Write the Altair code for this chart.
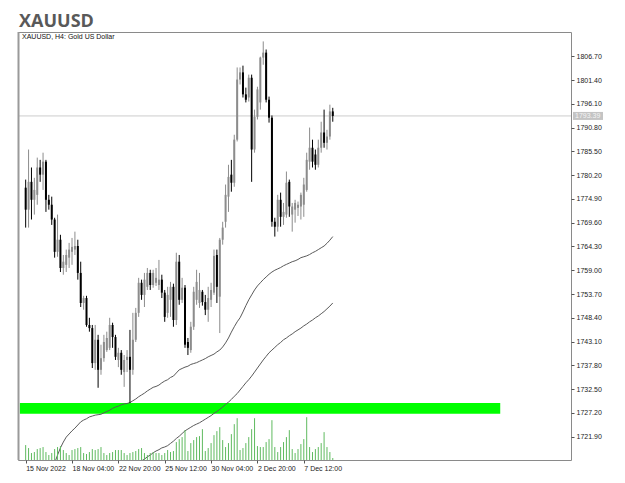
import altair as alt
import pandas as pd

# ---------------- data ----------------
opens = [1777.4, 1772.5, 1778.7, 1774.7, 1775.8, 1781.9, 1780.3, 1783.2, 1774.7, 1773.6,
         1770.3, 1763.1, 1765.8, 1759.5, 1760.2, 1761.8, 1763.1, 1763.6, 1764.4, 1758.4,
         1751.7, 1752.8, 1746.8, 1746.1, 1738.3, 1743.5, 1736.8, 1739.4, 1741.2, 1741.7,
         1746.8, 1744.1, 1739.0, 1740.6, 1736.3, 1739.0, 1739.7, 1736.8, 1743.5, 1749.5,
         1756.2, 1753.5, 1755.3, 1758.4, 1755.7, 1756.2, 1755.7, 1756.9, 1754.0, 1749.5,
         1752.4, 1755.3, 1747.9, 1760.9, 1752.4, 1755.1, 1743.0, 1741.2, 1746.4, 1752.4,
         1751.7, 1754.2, 1751.9, 1750.2, 1752.4, 1754.0, 1762.4, 1753.1, 1765.8, 1769.8,
         1775.4, 1780.3, 1778.5, 1788.1, 1801.5, 1803.1, 1798.2, 1797.5, 1801.9, 1785.9,
         1793.2, 1796.4, 1806.4, 1807.5, 1797.0, 1793.0, 1769.8, 1768.7, 1774.7, 1770.9,
         1771.4, 1778.7, 1771.4, 1772.5, 1772.9, 1773.2, 1773.6, 1776.9, 1783.2, 1786.3,
         1784.8, 1782.5, 1786.3, 1789.7, 1787.4, 1788.8, 1794.4]
highs = [1779.2, 1785.9, 1781.9, 1779.6, 1784.1, 1783.6, 1785.2, 1783.6, 1775.8, 1775.4,
         1770.7, 1771.4, 1766.9, 1762.4, 1763.6, 1765.1, 1766.2, 1767.6, 1765.8, 1760.9,
         1753.3, 1753.3, 1748.4, 1746.8, 1746.8, 1744.6, 1742.4, 1744.6, 1745.3, 1748.4,
         1747.3, 1744.6, 1741.7, 1741.2, 1740.1, 1741.2, 1745.7, 1749.5, 1750.6, 1757.3,
         1756.9, 1758.4, 1759.5, 1759.1, 1759.1, 1759.5, 1761.3, 1758.0, 1754.6, 1755.3,
         1756.4, 1756.0, 1762.9, 1762.4, 1757.3, 1755.7, 1743.9, 1747.5, 1755.3, 1759.1,
         1758.4, 1754.6, 1753.5, 1755.3, 1756.2, 1763.6, 1763.6, 1766.2, 1769.8, 1778.1,
         1782.5, 1783.6, 1789.2, 1804.2, 1804.2, 1804.6, 1799.7, 1802.6, 1802.6, 1794.8,
         1799.9, 1806.6, 1810.0, 1808.2, 1797.7, 1793.5, 1770.7, 1775.8, 1776.3, 1774.0,
         1781.0, 1779.2, 1774.0, 1774.7, 1774.3, 1776.3, 1779.6, 1785.2, 1790.8, 1788.1,
         1785.9, 1788.1, 1792.1, 1794.8, 1790.3, 1795.9, 1795.2]
lows = [1768.5, 1768.5, 1770.3, 1771.4, 1773.6, 1778.7, 1776.9, 1772.0, 1772.5, 1769.1,
        1761.8, 1762.0, 1758.6, 1758.0, 1758.6, 1759.5, 1760.2, 1762.4, 1756.9, 1750.8,
        1750.2, 1746.4, 1745.3, 1737.2, 1736.8, 1732.8, 1735.7, 1738.6, 1740.8, 1741.2,
        1741.7, 1739.0, 1737.4, 1735.7, 1733.0, 1736.3, 1729.4, 1735.7, 1743.0, 1748.6,
        1752.4, 1750.8, 1754.6, 1754.6, 1755.1, 1755.5, 1754.6, 1752.8, 1747.5, 1748.4,
        1748.6, 1746.4, 1746.8, 1751.3, 1751.7, 1741.7, 1740.1, 1740.6, 1745.7, 1751.3,
        1750.6, 1751.1, 1749.0, 1747.5, 1750.8, 1753.5, 1751.7, 1745.0, 1764.7, 1768.5,
        1772.0, 1776.5, 1777.6, 1787.7, 1800.4, 1797.5, 1796.4, 1796.6, 1778.7, 1785.2,
        1792.6, 1794.8, 1804.8, 1796.4, 1791.9, 1768.7, 1766.5, 1767.6, 1768.7, 1769.1,
        1770.7, 1770.9, 1767.6, 1769.6, 1771.1, 1770.3, 1770.9, 1776.5, 1781.4, 1781.9,
        1781.4, 1781.9, 1785.2, 1786.3, 1785.9, 1788.1, 1792.1]
closes = [1772.5, 1778.7, 1774.7, 1776.9, 1781.9, 1780.3, 1783.2, 1774.7, 1773.6, 1770.3,
          1763.1, 1765.8, 1759.5, 1760.9, 1762.4, 1763.6, 1764.2, 1764.4, 1758.4, 1751.7,
          1752.8, 1746.8, 1746.1, 1738.3, 1743.5, 1736.8, 1739.4, 1743.0, 1743.9, 1746.8,
          1744.1, 1739.7, 1740.6, 1736.8, 1739.0, 1739.7, 1736.8, 1743.5, 1749.5, 1756.2,
          1753.5, 1756.9, 1758.4, 1755.7, 1758.4, 1757.3, 1756.9, 1754.0, 1748.6, 1753.5,
          1755.3, 1747.9, 1760.9, 1752.4, 1755.1, 1742.4, 1741.7, 1746.4, 1754.2, 1756.4,
          1754.6, 1751.9, 1750.2, 1752.8, 1754.6, 1762.2, 1755.3, 1765.8, 1768.5, 1775.8,
          1779.8, 1778.5, 1788.1, 1801.5, 1803.1, 1798.2, 1797.0, 1801.9, 1785.9, 1793.2,
          1799.3, 1806.4, 1807.5, 1797.0, 1793.0, 1769.8, 1768.7, 1774.7, 1770.9, 1772.0,
          1778.5, 1773.2, 1773.2, 1774.0, 1773.6, 1775.8, 1778.1, 1783.6, 1786.3, 1783.2,
          1782.5, 1786.3, 1789.7, 1787.4, 1788.8, 1794.4, 1793.39]
# tick volume, thousands
volumes_k = [15, 12, 7, 8, 11, 12, 13, 8, 5, 7, 11, 13, 14, 10, 7, 5, 10, 11,
             12, 13, 7, 6, 8, 11, 10, 11, 13, 7, 5, 7, 8, 10, 10, 10, 7, 5,
             7, 8, 9, 11, 12, 7, 5, 7, 8, 7, 7, 5, 7, 10, 8, 9,
             18, 21, 23, 30, 9, 17, 20, 23, 24, 31, 9, 12, 17, 25, 29, 33, 20, 13,
             17, 26, 36, 42, 10, 12, 17, 23, 31, 42, 14, 13, 13, 18, 21, 40, 13, 8,
             13, 18, 23, 30, 11, 7, 11, 16, 21, 43, 13, 8, 11, 13, 17, 28, 13, 8, 2]
ma1_start = 9
ma1 = [1713.3, 1716.0, 1717.8, 1719.4, 1720.7, 1721.8, 1722.5, 1723.2, 1723.8, 1724.5,
       1725.2, 1725.6, 1725.9, 1726.3, 1726.5, 1726.7, 1726.8, 1726.9, 1727.2, 1727.5,
       1727.8, 1728.2, 1728.5, 1728.7, 1729.0, 1729.2, 1729.3, 1729.5, 1729.9, 1730.3,
       1730.8, 1731.2, 1731.6, 1732.1, 1732.5, 1732.9, 1733.1, 1733.4, 1733.9, 1734.3,
       1734.6, 1735.1, 1735.4, 1736.1, 1736.8, 1737.1, 1737.4, 1737.6, 1738.0, 1738.2,
       1738.4, 1738.7, 1739.0, 1739.3, 1739.7, 1740.0, 1740.3, 1740.8, 1741.2, 1741.9,
       1742.8, 1743.9, 1745.2, 1746.4, 1747.5, 1748.4, 1749.7, 1751.1, 1752.4, 1753.5,
       1754.6, 1755.5, 1756.2, 1756.9, 1757.5, 1758.1, 1758.6, 1759.0, 1759.3, 1759.6,
       1760.0, 1760.3, 1760.6, 1760.9, 1761.1, 1761.4, 1761.8, 1762.0, 1762.2, 1762.5,
       1762.9, 1763.2, 1763.6, 1764.0, 1764.4, 1765.0, 1765.7, 1766.5]
ma2_start = 39
ma2 = [1715.0,
       1716.5, 1716.9, 1717.4, 1717.8, 1718.3, 1718.7, 1719.0, 1719.4, 1719.6, 1719.9,
       1720.4, 1720.9, 1721.5, 1722.0, 1722.6, 1723.2, 1723.6, 1724.0, 1724.4, 1724.7,
       1725.0, 1725.4, 1725.8, 1726.2, 1726.6, 1727.1, 1727.5, 1728.0, 1728.5, 1729.1,
       1729.6, 1730.2, 1730.9, 1731.5, 1732.3, 1733.1, 1733.9, 1734.6, 1735.4, 1736.3,
       1737.2, 1738.1, 1739.0, 1739.8, 1740.6, 1741.2, 1741.8, 1742.4, 1742.9, 1743.5,
       1743.9, 1744.4, 1744.8, 1745.3, 1745.7, 1746.1, 1746.6, 1747.0, 1747.5, 1747.9,
       1748.4, 1748.8, 1749.3, 1749.8, 1750.4, 1751.0, 1751.7]
y_ticks = [1721.90, 1727.20, 1732.50, 1737.80, 1743.10, 1748.40, 1753.70, 1759.00,
           1764.30, 1769.60, 1774.90, 1780.20, 1785.50, 1790.80, 1796.10, 1801.40, 1806.70]
x_tick_bars = [0, 16, 32, 48, 64, 80, 96]
x_tick_labels = ["15 Nov 2022", "18 Nov 04:00", "22 Nov 20:00", "25 Nov 12:00",
                 "30 Nov 04:00", "2 Dec 20:00", "7 Dec 12:00"]
last_price = 1793.39
band_low, band_high = 1727.0, 1729.4
band_start_bar, band_end_bar = -2, 163.8
title_text = "XAUUSD"
info_text = "XAUUSD, H4:  Gold US Dollar"

# ---------------- tables ----------------
n = len(opens)
df = pd.DataFrame({"bar": list(range(n)), "open": opens, "high": highs,
                   "low": lows, "close": closes, "vol": volumes_k})
df["dir"] = ["up" if c >= o else "down" for o, c in zip(opens, closes)]
ma_df = pd.concat([
    pd.DataFrame({"bar": list(range(ma1_start, ma1_start + len(ma1))), "ma": ma1, "k": "ma1"}),
    pd.DataFrame({"bar": list(range(ma2_start, ma2_start + len(ma2))), "ma": ma2, "k": "ma2"}),
])
band_df = pd.DataFrame({"x0": [band_start_bar], "x1": [band_end_bar],
                        "lo": [band_low], "hi": [band_high]})

xscale = alt.Scale(domain=[-0.92, 186.5], nice=False, zero=False)
yscale = alt.Scale(domain=[1716.7, 1812.1], nice=False, zero=False)
label_js = "[" + ",".join("'%s'" % s for s in x_tick_labels) + "]"
xaxis = alt.Axis(values=x_tick_bars, labelExpr=label_js + "[round(datum.value/16)]",
                 grid=False, domain=False, tickSize=3, tickColor="#555",
                 labelAlign="left", labelBaseline="top", labelPadding=1,
                 labelFont="Liberation Sans", labelFontSize=7, labelColor="#222",
                 labelOverlap=False, labelFlush=False)
yaxis = alt.Axis(values=y_ticks, format=".2f", orient="right", grid=False, domain=False,
                 tickSize=3, tickColor="#555", labelPadding=2,
                 labelFont="Liberation Sans", labelFontSize=7, labelColor="#222",
                 labelOverlap=False, labelFlush=False)


def X(f):
    return alt.X(f, type="quantitative", scale=xscale, axis=xaxis, title=None)


def Y(f):
    return alt.Y(f, type="quantitative", scale=yscale, axis=yaxis, title=None)


color = alt.Color("dir:N", scale=alt.Scale(domain=["up", "down"], range=["#8c8c8c", "#000000"]),
                  legend=None)

band = alt.Chart(band_df).mark_rect(color="#00ff00", clip=True).encode(
    x=X("x0"), x2="x1", y=Y("lo"), y2="hi")
price_line = alt.Chart(pd.DataFrame({"p": [last_price]})).mark_rule(
    color="#cccccc", strokeWidth=1).encode(y=Y("p"))
mas = alt.Chart(ma_df).mark_line(color="#5a5a5a", strokeWidth=1, clip=True).encode(
    x=X("bar"), y=Y("ma"), detail="k:N")
wicks = alt.Chart(df).mark_rule(strokeWidth=1).encode(
    x=X("bar"), y=Y("low"), y2="high", color=color)
bodies = alt.Chart(df).mark_bar(size=2).encode(
    x=X("bar"), y=Y("open"), y2="close", color=color)
price_box = alt.Chart(pd.DataFrame({"p": [last_price]})).mark_rule(
    color="#c4c4c4", strokeWidth=8, clip=False).encode(
    y=Y("p"), x=alt.value(555), x2=alt.value(585))
price_txt = alt.Chart(pd.DataFrame({"p": [last_price], "t": ["%.2f" % last_price]})).mark_text(
    color="#f4f4f4", fontSize=7, font="Liberation Sans", align="left", baseline="middle").encode(
    y=Y("p"), x=alt.value(557), text="t:N")

price_layer = alt.layer(band, price_line, mas, wicks, bodies, price_box, price_txt)

vol_layer = alt.Chart(df).mark_rule(color="#5fba5f", strokeWidth=1).encode(
    x=X("bar"),
    y=alt.Y("vol:Q", scale=alt.Scale(domain=[0, 430], nice=False), axis=None, title=None),
    y2=alt.datum(0))

left_edge = alt.Chart(pd.DataFrame({"a": [0]})).mark_rule(color="#9a9a9a", strokeWidth=2).encode(
    x=alt.value(0.5), y=alt.value(0), y2=alt.value(428))
info = alt.Chart(pd.DataFrame({"t": [info_text]})).mark_text(
    fontSize=7, font="Liberation Sans", color="#111", align="left", baseline="middle").encode(
    x=alt.value(4), y=alt.value(5), text="t:N")
title = alt.Chart(pd.DataFrame({"t": [title_text]})).mark_text(
    fontSize=18, font="Open Sans", fontWeight="bold", color="#595959",
    align="left", baseline="alphabetic").encode(
    x=alt.value(1), y=alt.value(-5), text="t:N")

chart = alt.layer(price_layer, vol_layer, left_edge, info, title).resolve_scale(
    y="independent").properties(
    width=553, height=428,
    autosize=alt.AutoSizeParams(type="none"),
    padding={"left": 18, "top": 32, "right": 54, "bottom": 23},
    background="white",
).configure_view(stroke="#8a8a8a", strokeWidth=1)

chart.save("out.html", embed_options={"renderer": "svg", "actions": False})
